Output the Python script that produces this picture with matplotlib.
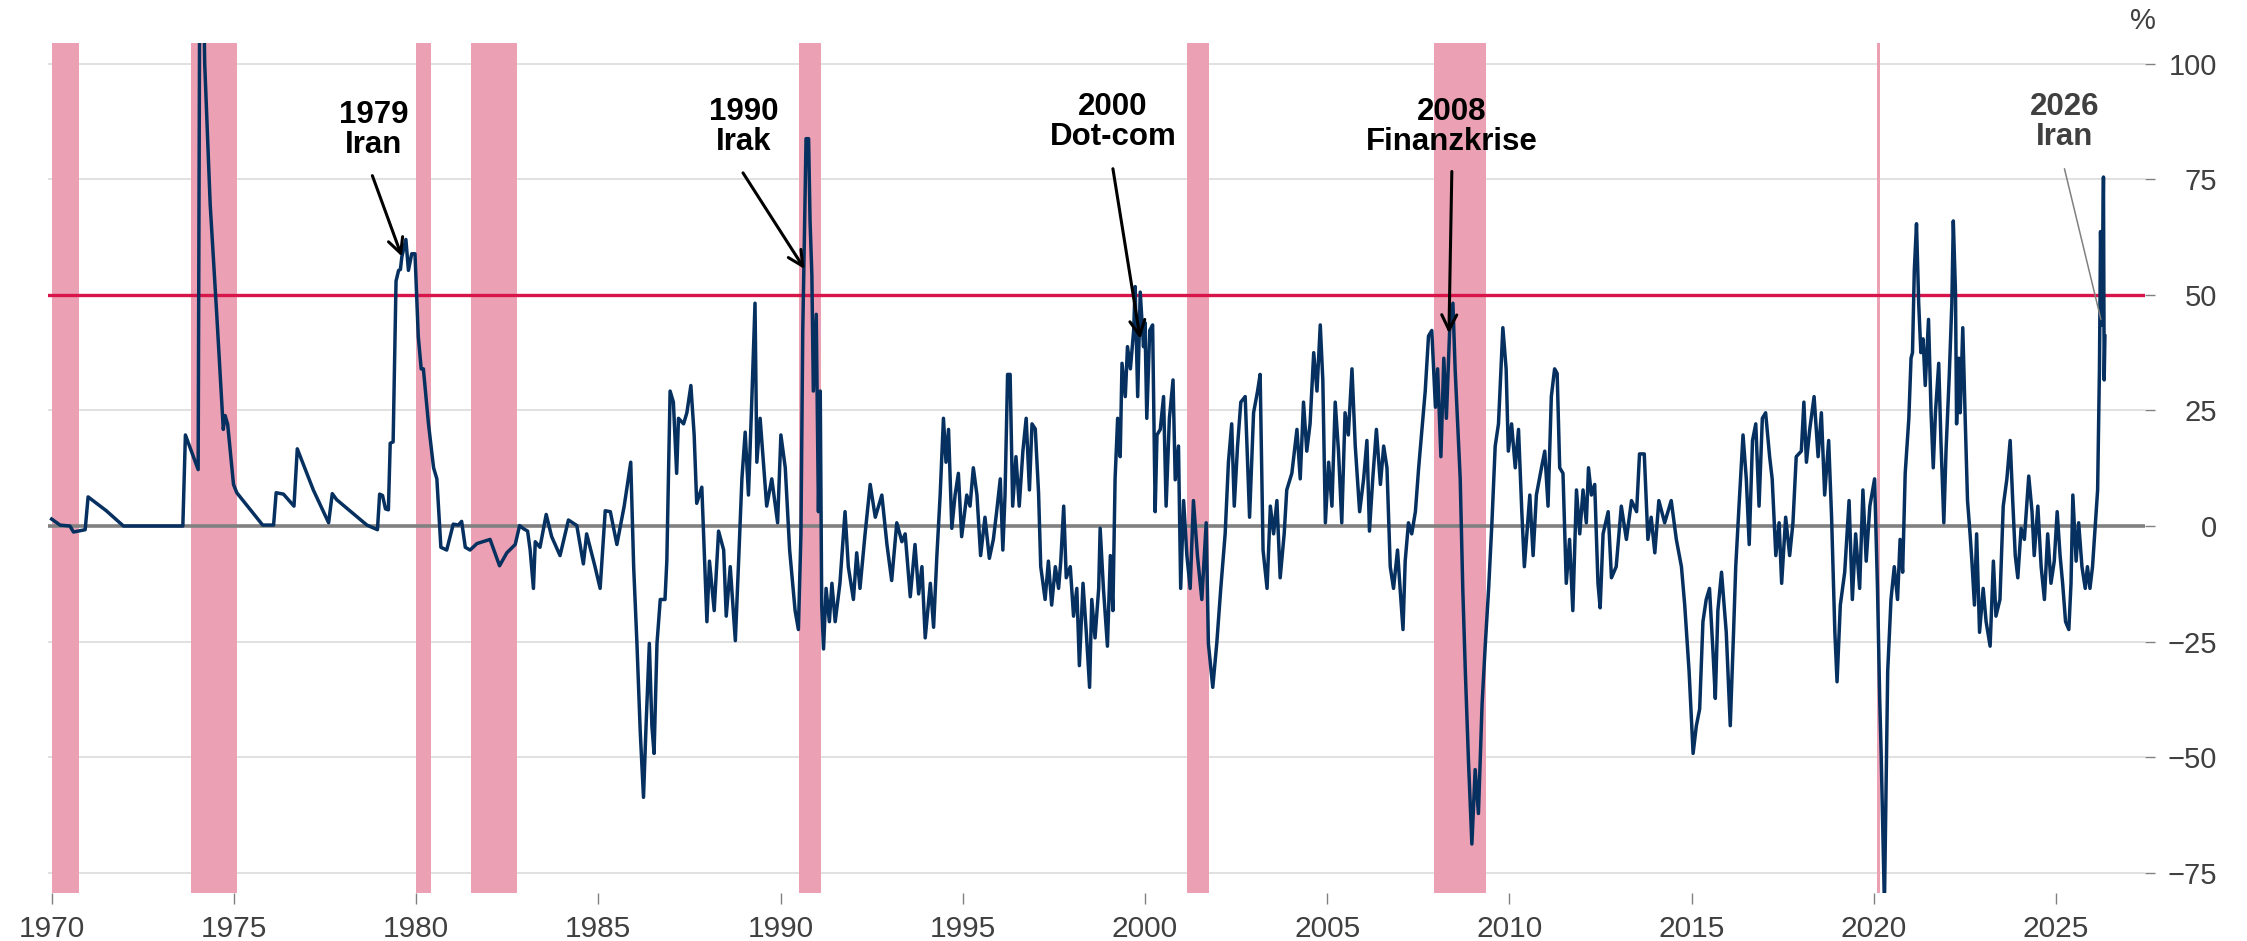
import matplotlib
matplotlib.use('Agg')
import matplotlib.pyplot as plt

plt.rcParams['font.family'] = ['Liberation Sans', 'DejaVu Sans']

# Ölpreis, Veränderung gg. Vorjahr in %
x_70s = [1970.0, 1970.23, 1970.5, 1970.6, 1970.92, 1971.0, 1971.5, 1971.97, 1973.6, 1973.67,
         1974.02, 1974.08, 1974.2, 1974.35, 1974.53, 1974.71, 1974.76, 1974.83, 1974.99, 1975.08,
         1975.79, 1976.09, 1976.16, 1976.36, 1976.65, 1976.74, 1977.18, 1977.6, 1977.7, 1977.82,
         1978.65, 1978.94, 1979.0, 1979.08, 1979.16, 1979.24, 1979.29, 1979.37, 1979.45, 1979.52,
         1979.57, 1979.61, 1979.72, 1979.79, 1979.88, 1979.97]
y_70s = [1.5, 0.2, 0, -1.3, -0.8, 6.3, 3.3, 0, 0, 19.7,
         12.2, 160, 100, 69.6, 45.8, 20.9, 23.9, 22, 9.0, 7.2,
         0.2, 0.2, 7.2, 6.9, 4.3, 16.7, 7.8, 0.7, 7.0, 5.7,
         0.2, -0.8, 6.9, 6.6, 3.7, 3.5, 17.9, 18.2, 53, 55.3,
         55.5, 58.3, 62, 55.3, 58.9, 58.9]

x_80s = [1980.06, 1980.14, 1980.2, 1980.34, 1980.48, 1980.57, 1980.68, 1980.84, 1981.02, 1981.16,
         1981.25, 1981.35, 1981.48, 1981.67, 1982.03, 1982.29, 1982.49, 1982.72, 1982.84, 1982.95,
         1983.06, 1983.13, 1983.22, 1983.27, 1983.4, 1983.57, 1983.72, 1983.95, 1984.18, 1984.41,
         1984.59, 1984.68, 1984.91, 1985.05, 1985.19, 1985.33, 1985.51, 1985.71, 1985.89, 1985.97,
         1986.06, 1986.15, 1986.24, 1986.31, 1986.4, 1986.47, 1986.53, 1986.61, 1986.7, 1986.83,
         1986.88, 1986.97, 1987.06, 1987.15, 1987.2, 1987.34, 1987.43, 1987.54, 1987.63, 1987.7,
         1987.84, 1987.98, 1988.05, 1988.18, 1988.3, 1988.44, 1988.51, 1988.62, 1988.76, 1988.85,
         1988.94, 1989.03, 1989.12, 1989.21, 1989.3, 1989.35, 1989.44, 1989.53, 1989.62, 1989.76,
         1989.92]
y_80s = [41, 34, 34, 22.1, 12.6, 10.2, -4.6, -5.2, 0.4, 0.2,
         1, -4.6, -5.2, -3.8, -2.9, -8.6, -5.8, -4.0, 0.1, -0.6,
         -1.1, -5.2, -13.5, -3.4, -4.6, 2.5, -2.3, -6.4, 1.3, 0.1,
         -8.2, -1.7, -8.8, -13.5, 3.3, 3.1, -4.0, 4.3, 13.8, -8.8,
         -25.4, -44.4, -58.7, -43.2, -25.4, -43.2, -49.2, -25.4, -15.9, -15.9,
         -7.6, 29.2, 26.8, 11.4, 23.3, 22.1, 24.5, 30.4, 19.7, 4.9,
         8.4, -20.7, -7.6, -18.3, -1.1, -5.2, -19.5, -8.8, -24.8, -7.6,
         10.2, 20.3, 6.7, 26.8, 48.2, 13.8, 23.3, 13.8, 4.3, 10.2,
         0.7]

x_90s = [1990.01, 1990.13, 1990.25, 1990.4, 1990.49, 1990.56, 1990.61, 1990.65, 1990.7, 1990.77,
         1990.81, 1990.86, 1990.9, 1990.98, 1991.04, 1991.09, 1991.13, 1991.18, 1991.25, 1991.34,
         1991.41, 1991.5, 1991.63, 1991.77, 1991.86, 1992.0, 1992.09, 1992.18, 1992.32, 1992.46,
         1992.6, 1992.78, 1992.92, 1993.05, 1993.19, 1993.33, 1993.42, 1993.56, 1993.69, 1993.79,
         1993.88, 1993.97, 1994.11, 1994.2, 1994.29, 1994.38, 1994.47, 1994.54, 1994.61, 1994.7,
         1994.79, 1994.88, 1994.97, 1995.11, 1995.2, 1995.29, 1995.39, 1995.49, 1995.61, 1995.73,
         1995.84, 1995.93, 1996.03, 1996.1, 1996.16, 1996.23, 1996.3, 1996.37, 1996.46, 1996.55,
         1996.65, 1996.74, 1996.83, 1996.9, 1996.99, 1997.08, 1997.14, 1997.26, 1997.35, 1997.44,
         1997.54, 1997.63, 1997.69, 1997.77, 1997.84, 1997.95, 1998.04, 1998.13, 1998.2, 1998.3,
         1998.39, 1998.48, 1998.54, 1998.63, 1998.73, 1998.77, 1998.86, 1998.97, 1999.05, 1999.12,
         1999.18, 1999.25, 1999.32, 1999.37, 1999.46, 1999.52, 1999.6, 1999.69, 1999.73, 1999.8,
         1999.87, 1999.96]
y_90s = [19.7, 12.6, -5.2, -18.3, -22.4, -1.7, 42.3, 60.1, 83.8, 83.8,
         66.0, 54.2, 29.2, 45.8, 3.1, 29.2, -17.1, -26.6, -13.5, -20.7,
         -12.4, -20.7, -12.4, 3.1, -8.8, -15.9, -5.8, -13.5, -1.7, 9.0,
         1.9, 6.7, -4.0, -11.8, 0.7, -3.4, -1.7, -15.3, -4.0, -14.7,
         -8.8, -24.2, -12.4, -21.9, -6.4, 6.7, 23.3, 13.8, 20.9, -0.5,
         6.7, 11.4, -2.3, 6.7, 4.3, 12.6, 6.7, -6.4, 1.9, -7.0,
         -2.9, 3.1, 10.2, -5.2, 6.7, 32.8, 32.8, 4.3, 15.0, 4.3,
         16.2, 23.3, 7.8, 22.1, 21, 7.2, -8.8, -15.9, -7.6, -17.1,
         -8.8, -13.5, -7.6, 4.3, -11.2, -8.8, -19.5, -13.5, -30.2, -12.4,
         -23.0, -34.9, -15.9, -24.2, -13.5, -0.5, -13.5, -26.0, -6.4, -18.3,
         10.2, 23.3, 15.0, 35.2, 28.0, 38.8, 34.0, 42.3, 51.8, 28.0,
         50.6, 38.8]

x_00s = [2000.0, 2000.05, 2000.13, 2000.21, 2000.28, 2000.33, 2000.42, 2000.51, 2000.58, 2000.67,
         2000.77, 2000.83, 2000.92, 2000.98, 2001.06, 2001.15, 2001.24, 2001.33, 2001.44, 2001.56,
         2001.68, 2001.74, 2001.86, 2001.97, 2002.08, 2002.2, 2002.29, 2002.38, 2002.45, 2002.54,
         2002.63, 2002.75, 2002.87, 2002.98, 2003.09, 2003.16, 2003.24, 2003.35, 2003.44, 2003.53,
         2003.62, 2003.71, 2003.82, 2003.89, 2004.03, 2004.17, 2004.26, 2004.35, 2004.44, 2004.53,
         2004.63, 2004.72, 2004.81, 2004.88, 2004.95, 2005.04, 2005.13, 2005.22, 2005.31, 2005.4,
         2005.49, 2005.58, 2005.68, 2005.77, 2005.89, 2006.0, 2006.09, 2006.16, 2006.25, 2006.35,
         2006.46, 2006.55, 2006.64, 2006.73, 2006.82, 2006.93, 2007.0, 2007.08, 2007.14, 2007.23,
         2007.32, 2007.42, 2007.51, 2007.6, 2007.69, 2007.78, 2007.87, 2007.97, 2008.03, 2008.12,
         2008.2, 2008.27, 2008.36, 2008.45, 2008.51, 2008.58, 2008.65, 2008.72, 2008.79, 2008.88,
         2008.97, 2009.06, 2009.15, 2009.25, 2009.34, 2009.43, 2009.52, 2009.61, 2009.7, 2009.82,
         2009.91, 2009.97]
y_00s = [44, 23.3, 42.3, 43.5, 3.1, 19.7, 20.9, 28.0, 4.3, 23.3,
         31.6, 10, 17.3, -13.5, 5.5, -6.4, -13.5, 5.5, -6.4, -15.9,
         0.7, -25.4, -34.9, -25.4, -13.5, -1.7, 13.8, 22.1, 4.3, 17.3,
         26.8, 28.0, 1.9, 24.5, 29.2, 32.8, -5.2, -13.5, 4.3, -1.7,
         5.5, -11.2, -1.7, 7.8, 11.4, 20.9, 10.2, 26.8, 16.2, 22.1,
         37.5, 29.2, 43.5, 31.6, 0.7, 13.8, 4.3, 26.8, 16.2, 0.7,
         24.5, 19.7, 34.0, 17.3, 3.1, 10.2, 18.5, -1.1, 10.2, 20.9,
         9.0, 17.3, 12.6, -8.8, -13.5, -5.2, -13.5, -22.4, -7.6, 0.7,
         -1.7, 3.1, 12.6, 20.9, 29.2, 41.1, 42.3, 25.7, 34.0, 15.0,
         36.3, 23.3, 42.3, 48.2, 34.0, 22.1, 10.2, -13.5, -31.4, -51.5,
         -68.8, -52.7, -62.2, -38.5, -25.4, -13.5, 0.7, 17.3, 22.1, 42.9,
         34.0, 16.2]

x_10s = [2010.06, 2010.16, 2010.25, 2010.34, 2010.41, 2010.56, 2010.65, 2010.74, 2010.88, 2010.97,
         2011.06, 2011.15, 2011.24, 2011.31, 2011.38, 2011.47, 2011.56, 2011.65, 2011.74, 2011.84,
         2011.93, 2012.02, 2012.11, 2012.17, 2012.25, 2012.34, 2012.43, 2012.49, 2012.57, 2012.71,
         2012.8, 2012.93, 2013.07, 2013.21, 2013.35, 2013.49, 2013.57, 2013.7, 2013.8, 2013.89,
         2013.99, 2014.1, 2014.26, 2014.44, 2014.58, 2014.72, 2014.81, 2014.93, 2015.04, 2015.13,
         2015.22, 2015.31, 2015.4, 2015.49, 2015.59, 2015.65, 2015.72, 2015.82, 2015.95, 2016.06,
         2016.15, 2016.21, 2016.3, 2016.41, 2016.5, 2016.58, 2016.67, 2016.76, 2016.85, 2016.94,
         2017.03, 2017.14, 2017.21, 2017.31, 2017.4, 2017.47, 2017.58, 2017.69, 2017.78, 2017.87,
         2018.01, 2018.08, 2018.15, 2018.24, 2018.36, 2018.47, 2018.56, 2018.65, 2018.76, 2018.84,
         2018.93, 2018.99, 2019.08, 2019.2, 2019.32, 2019.41, 2019.5, 2019.61, 2019.7, 2019.79,
         2019.89]
y_10s = [22.1, 12.6, 20.9, 3.1, -8.8, 6.7, -6.4, 6.7, 12.6, 16.2,
         4.3, 28.0, 34.0, 33, 12.6, 11.4, -12.4, -2.9, -18.3, 7.8,
         -1.7, 7.8, 0.7, 12.6, 6.7, 9.0, -12.4, -17.7, -1.7, 3.1,
         -11.2, -8.8, 4.3, -2.9, 5.5, 3.1, 15.6, 15.6, -2.9, 1.9,
         -5.8, 5.5, 0.7, 5.5, -2.9, -8.8, -17.1, -31.4, -49.2, -43.2,
         -39.6, -20.7, -15.9, -13.5, -27.8, -37.3, -18.3, -10.0, -23.0, -43.2,
         -23.0, -8.8, 4.3, 19.7, 10.2, -4.0, 18.5, 22.1, 4.3, 23.3,
         24.5, 15.0, 10.2, -6.4, 0.7, -12.4, 1.9, -6.4, 0.7, 15.0,
         16.2, 26.8, 13.8, 20.9, 28.0, 15.0, 24.5, 6.7, 18.5, 1.9,
         -23.0, -33.7, -17.1, -10.0, 5.5, -15.9, -1.7, -13.5, 7.8, -7.6,
         4.3]

x_20s = [2020.02, 2020.1, 2020.16, 2020.2, 2020.24, 2020.29, 2020.35, 2020.38, 2020.47, 2020.56,
         2020.65, 2020.72, 2020.79, 2020.86, 2020.96, 2021.02, 2021.06, 2021.11, 2021.17, 2021.23,
         2021.29, 2021.35, 2021.41, 2021.5, 2021.57, 2021.63, 2021.69, 2021.78, 2021.84, 2021.92,
         2021.98, 2022.07, 2022.14, 2022.18, 2022.24, 2022.27, 2022.33, 2022.37, 2022.44, 2022.51,
         2022.57, 2022.64, 2022.69, 2022.76, 2022.82, 2022.9, 2023.0, 2023.08, 2023.19, 2023.28,
         2023.35, 2023.46, 2023.55, 2023.65, 2023.74, 2023.81, 2023.88, 2023.95, 2024.04, 2024.13,
         2024.25, 2024.34, 2024.4, 2024.5, 2024.59, 2024.68, 2024.77, 2024.86, 2024.95, 2025.03,
         2025.11, 2025.18, 2025.26, 2025.35, 2025.41, 2025.46, 2025.55, 2025.62, 2025.71, 2025.8,
         2025.86, 2025.93, 2026.0, 2026.08, 2026.14, 2026.19, 2026.22, 2026.26, 2026.3, 2026.32,
         2026.34]
y_20s = [10.2, -13.5, -37.3, -49.2, -63.4, -82, -49.2, -31.4, -15.9, -8.8,
         -15.9, -2.9, -10.0, 11.4, 23.3, 36.3, 37.5, 55.3, 65.4, 48.2,
         37.5, 40.5, 30.4, 44.7, 24.5, 12.6, 24.5, 35.2, 18.5, 0.7,
         16.2, 32.8, 48.2, 66.0, 50.6, 22.1, 36.3, 24.5, 42.9, 22.1,
         5.5, -1.7, -7.6, -17.1, -1.7, -23.0, -13.5, -20.7, -26.0, -7.6,
         -19.5, -15.9, 4.3, 10.2, 18.5, 5.5, -6.4, -11.2, -0.5, -2.9,
         10.8, 3.1, -6.4, 4.3, -8.8, -15.9, -1.7, -12.4, -7.6, 3.1,
         -6.4, -12.4, -20.7, -22.4, -12.4, 6.7, -7.6, 0.7, -8.8, -13.5,
         -8.8, -13.5, -8.8, 0.7, 7.8, 34.0, 63.7, 43.5, 75.5, 31.6,
         41.1]

# US-Rezessionen
rez_start = [1970.0, 1973.83, 1980.0, 1981.5, 1990.52, 2001.15, 2007.94, 2020.08]
rez_end = [1970.76, 1975.08, 1980.41, 1982.76, 1991.12, 2001.76, 2009.36, 2020.16]

events = ['1979\nIran', '1990\nIrak', '2000\nDot-com', '2008\nFinanzkrise', '2026\nIran']
ev_text = [(1978.83, 85.7), (1988.98, 86.3), (1999.12, 87.4), (2008.42, 86.4), (2025.24, 87.4)]
ev_tail = [(1978.80, 75.8), (1988.97, 76.4), (1999.12, 77.3), (2008.42, 76.7), (2025.23, 77.3)]
ev_head = [(1979.61, 58.3), (1990.66, 55.6), (1999.87, 40.5), (2008.34, 41.7), (2026.23, 44.7)]

years = x_70s + x_80s + x_90s + x_00s + x_10s + x_20s
yoy = y_70s + y_80s + y_90s + y_00s + y_10s + y_20s

W, H = 2247, 941
fig = plt.figure(figsize=(W / 100, H / 100), dpi=100)
ax = fig.add_axes([48 / W, 1 - 893 / H, (2145 - 48) / W, (893 - 43) / H])

for s, e in zip(rez_start, rez_end):
    ax.axvspan(s, e, color='#eba1b3', lw=0, zorder=1)
for g in [100, 75, 25, -25, -50, -75]:
    ax.axhline(g, color='#d9d9d9', lw=1.1, zorder=0)
ax.axhline(0, color='#808080', lw=2.6, zorder=2)
ax.axhline(50, color='#d7154a', lw=2.4, zorder=2)

ax.plot(years, yoy, color='#06305f', lw=2.5, zorder=3)

for i, lab in enumerate(events):
    col = '#404040' if i == len(events) - 1 else 'black'
    ax.text(ev_text[i][0], ev_text[i][1], lab, ha='center', va='center', multialignment='center',
            fontsize=22.5, fontweight='bold', color=col, linespacing=1.0, zorder=5)
    if i == len(events) - 1:
        ax.annotate('', xy=ev_head[i], xytext=ev_tail[i],
                    arrowprops=dict(arrowstyle='-', color='#808080', lw=1.1, shrinkA=0, shrinkB=0), zorder=5)
    else:
        ax.annotate('', xy=ev_head[i], xytext=ev_tail[i],
                    arrowprops=dict(arrowstyle='->', color='black', lw=2.2, mutation_scale=27,
                                    shrinkA=0, shrinkB=0), zorder=5)

ax.set_xlim(1969.9, 2027.44)
ax.set_ylim(-79.4, 104.5)
for sp in ax.spines.values():
    sp.set_visible(False)

ax.set_xticks(list(range(1970, 2030, 5)))
ax.tick_params(axis='x', length=8, width=1, color='#808080', labelsize=21.5, labelcolor='#404040', pad=8)
ax.yaxis.tick_right()
ax.set_yticks([-75, -50, -25, 0, 25, 50, 75, 100])
ax.tick_params(axis='y', length=7.2, width=1, color='#808080', labelsize=21, labelcolor='#404040', pad=44.6)
for t in ax.get_yticklabels():
    t.set_ha('right')

fig.text(2143 / W, 1 - 21 / H, '%', ha='center', va='center', fontsize=21, color='#404040')

fig.savefig('out.png', dpi=100)
